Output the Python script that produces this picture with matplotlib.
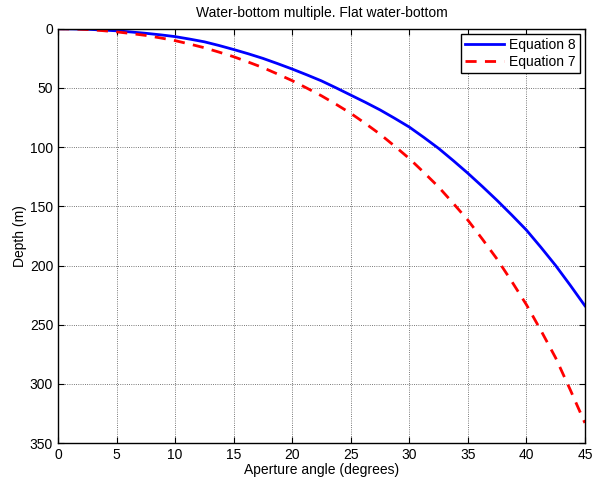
import numpy as np
import matplotlib
matplotlib.use("Agg")
import matplotlib.pyplot as plt

plt.rcParams['font.family'] = ['Liberation Sans', 'DejaVu Sans']

# aperture angle (degrees)
angle = [0, 1.25, 2.5, 3.75, 5, 6.25, 7.5, 8.75, 10, 11.25, 12.5, 13.75,
         15, 16.25, 17.5, 18.75, 20, 21.25, 22.5, 23.75, 25, 26.25, 27.5,
         28.75, 30, 31.25, 32.5, 33.75, 35, 36.25, 37.5, 38.75, 40, 41.25,
         42.5, 43.75, 45]
# depth (m)
depth_eq8 = [0, 0.1, 0.4, 1.0, 1.7, 2.7, 3.8, 5.1, 6.6, 8.7, 11, 14.1,
             17.5, 21.1, 25, 29.4, 34, 38.9, 44, 49.9, 56, 62.1, 68.5,
             75.6, 83, 91.8, 101, 111.3, 122, 133.3, 145, 157.3, 170, 184.7,
             200, 216.7, 234]
depth_eq7 = [0, 0.15, 0.6, 1.5, 2.6, 4.0, 5.6, 7.7, 10, 12.9, 16, 19.7,
             23.6, 28.1, 32.8, 38.2, 43.8, 50.1, 56.6, 63.8, 71.4, 80.0, 89,
             99.1, 109.6, 121.4, 133.6, 147.4, 161.6, 177.8, 194.6, 213.4,
             233, 255, 278, 305, 333]

fig = plt.figure(figsize=(5.92, 4.8), dpi=100)
ax = fig.add_axes([0.098, 0.077, 0.890, 0.863])

ax.plot(angle, depth_eq8, color='#0000ff', lw=2, label='Equation 8')
ax.plot(angle, depth_eq7, color='#ff0000', lw=2, ls=(0, (4, 3)), label='Equation 7')

ax.set_xlim(0, 45)
ax.set_ylim(350, 0)
ax.set_xticks(np.arange(0, 46, 5))
ax.set_yticks(np.arange(0, 351, 50))
ax.tick_params(direction='in', top=True, right=True, labelsize=10, length=4)
ax.grid(True, ls=':', color='k', lw=0.6, alpha=0.7)
for s in ax.spines.values():
    s.set_linewidth(1)

ax.set_title('Water-bottom multiple. Flat water-bottom', fontsize=10, pad=8.5)
ax.set_xlabel('Aperture angle (degrees)', fontsize=10, labelpad=1)
ax.set_ylabel('Depth (m)', fontsize=10, labelpad=2)

leg = ax.legend(loc='upper right', fontsize=10, fancybox=False, framealpha=1,
                edgecolor='k', borderaxespad=0.35, handlelength=2.8,
                handletextpad=0.4, labelspacing=0.25, borderpad=0.3)
leg.get_frame().set_linewidth(1)

fig.savefig('out.png', dpi=100)
